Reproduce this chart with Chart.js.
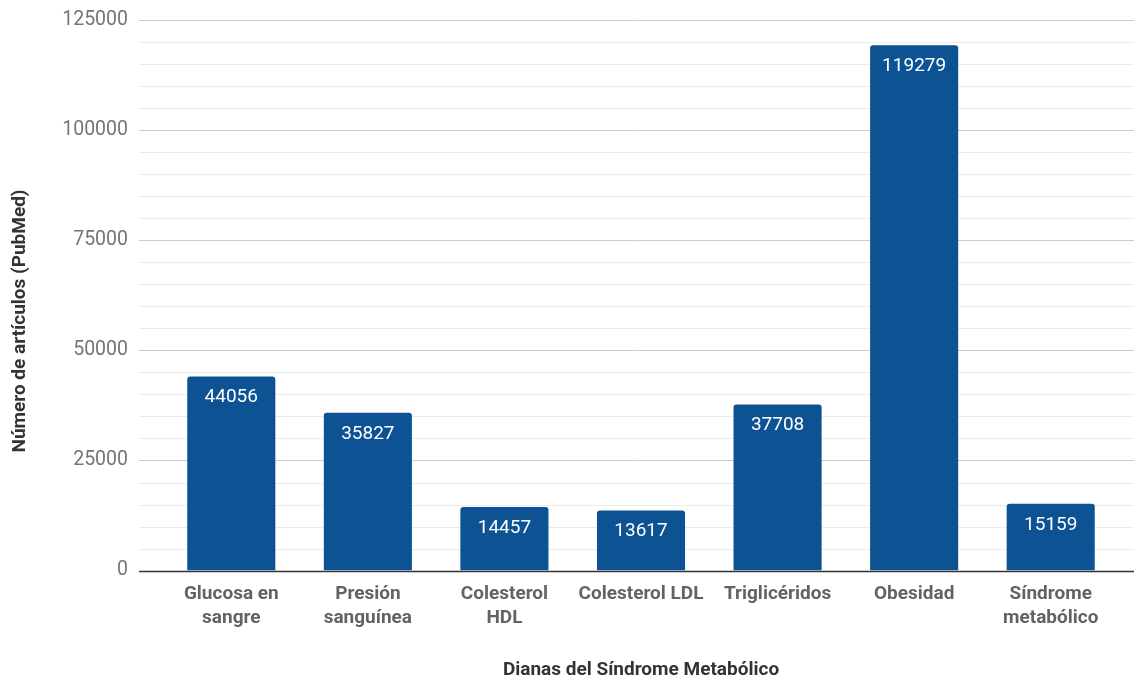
<!DOCTYPE html>
<html>
<head>
<meta charset="utf-8">
<script src="https://cdn.jsdelivr.net/npm/chart.js@4"></script>
<style>
html,body{margin:0;padding:0;background:#fff;}
canvas{display:block;}
</style>
</head>
<body>
<canvas id="c" width="1134" height="680"></canvas>
<script>
const categories = [["Glucosa en","sangre"],["Presión","sanguínea"],["Colesterol","HDL"],["Colesterol LDL"],["Triglicéridos"],["Obesidad"],["Síndrome","metabólico"]];
const values = [44056, 35827, 14457, 13617, 37708, 119279, 15159];
const yMax = 125000;
const yStep = 5000;
const yLabelStep = 25000;
const xTitle = "Dianas del Síndrome Metabólico";
const yTitle = "Número de artículos (PubMed)";

const gridPlugin = {
  id: 'gridExt',
  beforeDatasetsDraw(chart) {
    const ctx = chart.ctx, y = chart.scales.y;
    const x0 = 139, x1 = 1134;
    ctx.save();
    y.ticks.forEach(t => {
      const py = Math.round(y.getPixelForValue(t.value)) + 0.5;
      if (t.value === 0) return;
      ctx.strokeStyle = (t.value % yLabelStep === 0) ? '#cccccc' : '#ebebeb';
      ctx.lineWidth = 1;
      ctx.beginPath(); ctx.moveTo(x0, py); ctx.lineTo(x1, py); ctx.stroke();
    });
    ctx.restore();
  },
  afterDatasetsDraw(chart) {
    const ctx = chart.ctx, y = chart.scales.y;
    ctx.save();
    const py = Math.round(y.getPixelForValue(0)) + 0.5;
    ctx.strokeStyle = '#333333'; ctx.lineWidth = 1.5;
    ctx.beginPath(); ctx.moveTo(139, py); ctx.lineTo(1134, py); ctx.stroke();
    const meta = chart.getDatasetMeta(0);
    ctx.fillStyle = '#ffffff';
    ctx.font = '19px Roboto';
    ctx.textAlign = 'center';
    ctx.textBaseline = 'middle';
    meta.data.forEach((bar, i) => {
      ctx.fillText(String(values[i]), bar.x, bar.y + 21);
    });
    // y axis title
    ctx.translate(20, 321);
    ctx.rotate(-Math.PI / 2);
    ctx.fillStyle = '#333333';
    ctx.font = 'bold 19px Roboto';
    ctx.fillText(yTitle, 0, 0);
    ctx.restore();
  }
};

new Chart(document.getElementById('c'), {
  type: 'bar',
  data: {
    labels: categories,
    datasets: [{
      data: values,
      backgroundColor: '#0d5293',
      borderRadius: {topLeft: 3, topRight: 3, bottomLeft: 0, bottomRight: 0},
      borderSkipped: false,
      categoryPercentage: 1,
      barPercentage: 0.645
    }]
  },
  options: {
    responsive: false,
    animation: false,
    devicePixelRatio: 1,
    layout: {padding: {top: 20, right: 15, left: 0, bottom: 0}},
    plugins: {legend: {display: false}, tooltip: {enabled: false}},
    scales: {
      x: {
        grid: {display: false, drawTicks: false},
        border: {display: false},
        ticks: {color: '#636363', font: {family: 'Roboto', size: 19, weight: 'bold', lineHeight: 1.3}, padding: 11, maxRotation: 0, autoSkip: false},
        title: {display: true, text: xTitle, color: '#333333', font: {family: 'Roboto', size: 19, weight: 'bold', lineHeight: 1.0}, padding: {top: 19, bottom: 0}}
      },
      y: {
        min: 0, max: yMax,
        afterFit(s) { s.width = 163; s.paddingTop = 0; s.paddingBottom = 0; },
        grid: {display: false, drawTicks: false},
        border: {display: false},
        ticks: {
          stepSize: yStep,
          autoSkip: false,
          color: '#757575',
          font: {family: 'Roboto', size: 19.5},
          padding: 35,
          callback: v => (v % yLabelStep === 0) ? String(v) : ''
        },
        title: {display: false, text: yTitle}
      }
    }
  },
  plugins: [gridPlugin]
});
</script>
</body>
</html>
